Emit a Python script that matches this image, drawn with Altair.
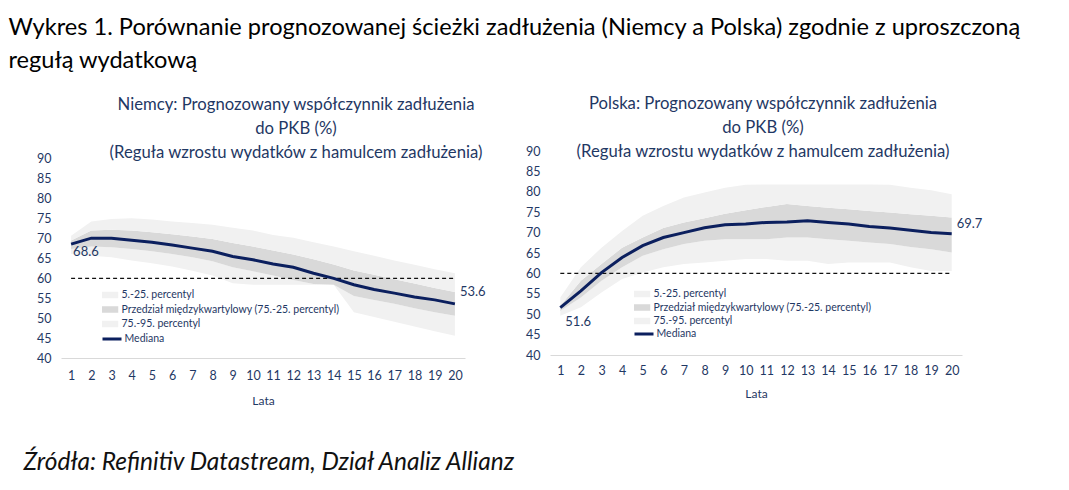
import altair as alt
import pandas as pd

years = list(range(1, 21))

# Niemcy (Germany)
de_p5 = [66.1, 65.7, 65.3, 64.5, 63.8, 63.0, 61.9, 60.7, 58.8, 58.4, 58.4, 58.4, 58.4, 58.4, 51.5, 50.3, 49.1, 47.9, 46.7, 45.6]
de_p25 = [67.4, 68.0, 67.8, 67.4, 66.8, 66.1, 65.3, 64.3, 62.8, 61.8, 60.7, 59.6, 58.6, 58.4, 55.6, 54.6, 53.6, 52.5, 51.5, 50.6]
de_med = [68.6, 70.1, 70.1, 69.6, 69.1, 68.4, 67.6, 66.8, 65.5, 64.7, 63.6, 62.8, 61.3, 60.0, 58.4, 57.2, 56.3, 55.3, 54.6, 53.6]
de_p75 = [69.5, 72.0, 72.2, 72.0, 71.6, 71.1, 70.5, 69.9, 68.9, 68.0, 67.0, 66.0, 64.8, 63.5, 62.0, 60.9, 59.8, 58.7, 57.6, 56.6]
de_p95 = [70.7, 74.3, 74.9, 75.1, 74.8, 74.3, 73.9, 73.5, 72.7, 72.0, 70.9, 70.2, 69.1, 68.0, 66.8, 65.7, 64.5, 63.4, 62.3, 61.3]

# Polska (Poland)
pl_p5 = [49.6, 51.7, 55.3, 58.6, 60.2, 61.5, 62.3, 62.7, 63.1, 63.5, 63.5, 63.1, 63.1, 62.3, 62.7, 62.7, 62.7, 61.5, 60.6, 60.6]
pl_p25 = [50.8, 54.1, 58.2, 61.5, 64.3, 65.9, 67.2, 68.0, 68.4, 68.4, 68.4, 68.8, 68.8, 68.4, 68.0, 67.6, 67.2, 66.5, 65.9, 65.1]
pl_med = [51.6, 55.7, 60.2, 63.9, 66.8, 68.8, 70.0, 71.2, 71.9, 72.1, 72.5, 72.6, 72.9, 72.5, 72.1, 71.5, 71.1, 70.6, 70.0, 69.7]
pl_p75 = [52.1, 58.2, 62.3, 66.3, 68.8, 71.1, 72.5, 73.5, 74.6, 75.5, 76.3, 77.0, 76.5, 76.1, 75.7, 75.3, 74.9, 74.5, 74.1, 73.7]
pl_p95 = [54.1, 61.5, 66.3, 70.4, 74.1, 76.5, 78.6, 79.8, 81.0, 81.7, 81.8, 81.8, 81.8, 81.8, 81.8, 81.8, 81.7, 81.0, 80.4, 79.4]

bands = ["5.-25. percentyl", "Przedział międzykwartylowy (75.-25. percentyl)", "75.-95. percentyl"]
band_colors = ["#f1f1f1", "#d9d9d9", "#f1f1f1"]
median_name = "Mediana"
threshold = 60

title_main = ["Wykres 1. Porównanie prognozowanej ścieżki zadłużenia (Niemcy a Polska) zgodnie z uproszczoną",
              "regułą wydatkową"]
title_de = ["Niemcy: Prognozowany współczynnik zadłużenia", "do PKB (%)",
            "(Reguła wzrostu wydatków z hamulcem zadłużenia)"]
title_pl = ["Polska: Prognozowany współczynnik zadłużenia", "do PKB (%)",
            "(Reguła wzrostu wydatków z hamulcem zadłużenia)"]
footer = "Źródła: Refinitiv Datastream, Dział Analiz Allianz"
x_title = "Lata"
y_ticks = [40, 45, 50, 55, 60, 65, 70, 75, 80, 85, 90]

NAVY = "#1f3864"
LINE = "#0b1f5e"
FONT = "Lato"
CLIP_H = 11


def panel(p5, p25, med, p75, p95, title, w, h, ymax, title_dx, title_offset,
          leg_x, leg_y, row_pad, med_off, first_dx, first_dy, last_dx, last_dy, lab_pad, title_pad):
    lo = [p5, p25, p75]
    hi = [p25, p75, p95]
    rows = []
    for b, l, u in zip(bands, lo, hi):
        for yr, a, c in zip(years, l, u):
            rows.append({"year": yr, "band": b, "lo": a, "hi": c})
    area_df = pd.DataFrame(rows)
    med_df = pd.DataFrame({"year": years, "value": med, "series": median_name})
    rule_df = pd.DataFrame({"x": [years[0]], "x2": [years[-1]], "y": [threshold]})
    first_df = med_df.iloc[[0]]
    last_df = med_df.iloc[[-1]]

    xs = alt.Scale(domain=[0.5, 20.5], nice=False, zero=False)
    ys = alt.Scale(domain=[40, ymax], nice=False, zero=False)
    xax = alt.Axis(values=years, tickCount=len(years), labelAngle=0, ticks=False, grid=False,
                   domainColor="#d9d9d9", domainWidth=1, title=x_title, titleFontWeight="normal",
                   titleFontSize=12, titleColor=NAVY, titleFont=FONT, labelPadding=lab_pad,
                   titlePadding=title_pad, labelOverlap=False, labelFlush=False)
    yax = alt.Axis(values=y_ticks, tickCount=len(y_ticks), domain=False, ticks=False, grid=False,
                   title=None, labelPadding=10, labelOverlap=False, labelFlush=False)

    area = alt.Chart(area_df).mark_area(opacity=1, interpolate="linear").encode(
        x=alt.X("year:Q", scale=xs, axis=xax),
        y=alt.Y("lo:Q", scale=ys, axis=yax),
        y2="hi:Q",
        color=alt.Color("band:N", scale=alt.Scale(domain=bands, range=band_colors),
                        legend=alt.Legend(title=None, orient="none", legendX=leg_x, legendY=leg_y,
                                          symbolType="M-2.2,-0.66L2.2,-0.66L2.2,0.66L-2.2,0.66Z",
                                          symbolSize=100, symbolStrokeWidth=0, labelFontSize=10.5,
                                          labelColor=NAVY, labelFont=FONT, rowPadding=row_pad,
                                          clipHeight=CLIP_H, padding=0,
                                          labelOffset=9, symbolOpacity=1, labelLimit=0)),
    )
    rule = alt.Chart(rule_df).mark_rule(color="#111111", strokeDash=[4, 3], strokeWidth=1.2).encode(
        x="x:Q", x2="x2:Q", y="y:Q")
    line = alt.Chart(med_df).mark_line(strokeWidth=3).encode(
        x="year:Q", y="value:Q",
        stroke=alt.Stroke("series:N", scale=alt.Scale(domain=[median_name], range=[LINE]),
                          legend=alt.Legend(title=None, orient="none", legendX=leg_x + 0.5,
                                            legendY=leg_y + med_off,
                                            symbolType="M-2.5,0L2.5,0", clipHeight=CLIP_H, padding=0,
                                            symbolSize=100, symbolStrokeWidth=3, labelFontSize=10.5,
                                            labelColor=NAVY, labelFont=FONT, labelOffset=9, labelLimit=0)),
    )
    t1 = alt.Chart(first_df).mark_text(align="left", baseline="middle", dx=first_dx, dy=first_dy,
                                       fontSize=13, color=NAVY, font=FONT).encode(
        x="year:Q", y="value:Q", text=alt.Text("value:Q", format=".1f"))
    t2 = alt.Chart(last_df).mark_text(align="left", baseline="middle", dx=last_dx, dy=last_dy,
                                      fontSize=13, color=NAVY, font=FONT).encode(
        x="year:Q", y="value:Q", text=alt.Text("value:Q", format=".1f"))

    return alt.layer(area, rule, line, t1, t2).resolve_scale(color="independent", stroke="independent").properties(
        width=w, height=h,
        title=alt.TitleParams(title, fontSize=16.7, fontWeight="normal", color=NAVY, font=FONT,
                              lineHeight=24, anchor="middle", dx=title_dx, offset=title_offset),
    )


left = panel(de_p5, de_p25, de_med, de_p75, de_p95, title_de, 404, 207, 92, 33, -10.5,
             41, 138.5, 3.5, 44, 2, 8, 5, -12, 11, 14)
right = panel(pl_p5, pl_p25, pl_med, pl_p75, pl_p95, title_pl, 412, 204, 90, 7, -16,
              84, 137.5, 2.5, 40, 5, 14, 5, -10, 9, 12)

inner = alt.hconcat(left, right, spacing=39).resolve_scale(
    x="independent", y="independent", color="independent", stroke="independent"
).resolve_legend(color="independent", stroke="independent").properties(
    title=alt.TitleParams(footer, orient="bottom", anchor="start", fontSize=24.5, fontStyle="italic",
                          fontWeight="normal", font=FONT, color="#111111", dx=-13, offset=44)
)

chart = alt.vconcat(inner).properties(
    title=alt.TitleParams(title_main, anchor="start", fontSize=23.6, fontWeight="normal", font=FONT,
                          color="#000000", lineHeight=33, dx=-15, offset=23.5),
    padding={"left": 8, "top": 16, "right": 5, "bottom": 5},
).configure(font=FONT).configure_view(strokeWidth=0).configure_axis(
    labelFont=FONT, labelFontSize=12.5, labelColor=NAVY, labelOverlap=False
)

chart.save("out.html", embed_options={"renderer": "svg", "actions": False})
